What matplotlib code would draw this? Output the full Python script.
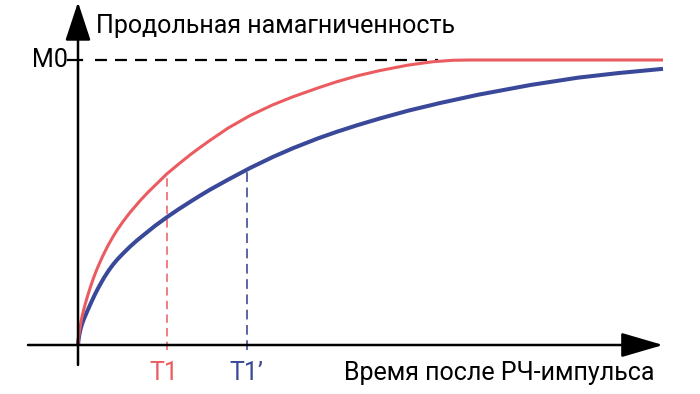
import matplotlib
matplotlib.use("Agg")
import matplotlib.pyplot as plt

# Values (time in arbitrary units, magnetisation in units of M0)
red_t = [0, 0.005, 0.012, 0.022, 0.033, 0.05, 0.07, 0.093, 0.12, 0.15, 0.18, 0.21, 0.25, 0.3,
         0.35, 0.387, 0.45, 0.52, 0.62, 0.7, 0.8, 0.887, 1.0, 1.12, 1.22, 1.32, 1.5, 1.72, 1.95,
         2.15, 2.4, 2.59, 2.8, 3.02, 3.3, 3.55, 3.75, 3.92, 5.85]
red_m = [0, 0.022, 0.042, 0.065, 0.088, 0.114, 0.141, 0.169, 0.199, 0.230, 0.258, 0.283, 0.314, 0.349,
         0.380, 0.401, 0.433, 0.465, 0.506, 0.536, 0.570, 0.600, 0.633, 0.667, 0.693, 0.718, 0.761, 0.805, 0.843,
         0.871, 0.902, 0.924, 0.945, 0.963, 0.982, 0.994, 0.999, 1.0, 1.0]

blue_t = [0, 0.004, 0.012, 0.025, 0.04, 0.06, 0.093, 0.13, 0.17, 0.21, 0.26, 0.31, 0.35, 0.393,
          0.45, 0.52, 0.59, 0.66, 0.77, 0.887, 1.0, 1.12, 1.22, 1.32, 1.5, 1.72, 1.95, 2.153,
          2.4, 2.587, 2.8, 3.02, 3.3, 3.62, 4.0, 4.52, 5.0, 5.4, 5.85]
blue_m = [0, 0.014, 0.033, 0.055, 0.073, 0.092, 0.119, 0.148, 0.178, 0.205, 0.236, 0.263, 0.282, 0.300,
          0.321, 0.345, 0.367, 0.387, 0.418, 0.448, 0.475, 0.502, 0.524, 0.545, 0.580, 0.621, 0.660, 0.691,
          0.725, 0.748, 0.772, 0.795, 0.822, 0.849, 0.878, 0.912, 0.938, 0.954, 0.969]

T1 = 0.887
T1_prime = 1.693
red_at_T1 = 0.600
blue_at_T1_prime = 0.616
M0 = 1.0
M0_dash_end = 3.6

title_text = "Продольная намагниченность"
xlabel_text = "Время после РЧ-импульса"
T1_label = "T1"
T1p_label = "T1\u2019"
M0_label = "M0"

red = "#EB5C61"
blue = "#3A4899"
blue_dash = "#2F3C8E"

plt.rcParams['font.family'] = ['Roboto', 'DejaVu Sans']
plt.rcParams['lines.scale_dashes'] = False

fig = plt.figure(figsize=(7, 3.94), dpi=100)
ax = fig.add_axes([0, 0, 1, 1])
ax.set_xlim(-0.78, 6.22)
ax.set_ylim(-0.1719, 1.2105)
ax.axis('off')

# axes with arrow heads
ax.annotate('', xy=(5.85, 0), xytext=(-0.5, 0),
            arrowprops=dict(arrowstyle='-|>,head_length=26,head_width=7.6', mutation_scale=1,
                            lw=1.8, color='black', shrinkA=0, shrinkB=0))
ax.annotate('', xy=(0, 1.203), xytext=(0, -0.07),
            arrowprops=dict(arrowstyle='-|>,head_length=24,head_width=7.9', mutation_scale=1,
                            lw=1.8, color='black', shrinkA=0, shrinkB=0))

# M0 tick and dashed level
ax.plot([-0.1, 0.04], [M0, M0], color='black', lw=1.6)
ax.plot([0.17, M0_dash_end], [M0, M0], color='black', lw=1.6, dashes=(8.6, 5.8))

# T1 markers
ax.plot([T1, T1], [-0.018, red_at_T1], color=red, lw=1.1, dashes=(6.0, 3.8))
ax.plot([T1_prime, T1_prime], [-0.018, blue_at_T1_prime], color=blue_dash, lw=1.1, dashes=(7.0, 4.0))

# recovery curves
ax.plot(blue_t, blue_m, color=blue, lw=2.9, solid_joinstyle='round', solid_capstyle='butt')
ax.plot(red_t, red_m, color=red, lw=2.2, solid_joinstyle='round', solid_capstyle='butt')

# labels
fs = 18
ax.text(0.18, 1.095, title_text, fontsize=fs, ha='left', va='baseline', color='black')
ax.text(-0.1, M0, M0_label, fontsize=fs, ha='right', va='center', color='black')
ax.text(T1 - 0.03, -0.123, T1_label, fontsize=fs, ha='center', va='baseline', color=red)
ax.text(T1_prime - 0.01, -0.123, T1p_label, fontsize=fs, ha='center', va='baseline', color=blue)
ax.text(5.77, -0.123, xlabel_text, fontsize=fs, ha='right', va='baseline', color='black')

fig.savefig("out.png", dpi=100)
